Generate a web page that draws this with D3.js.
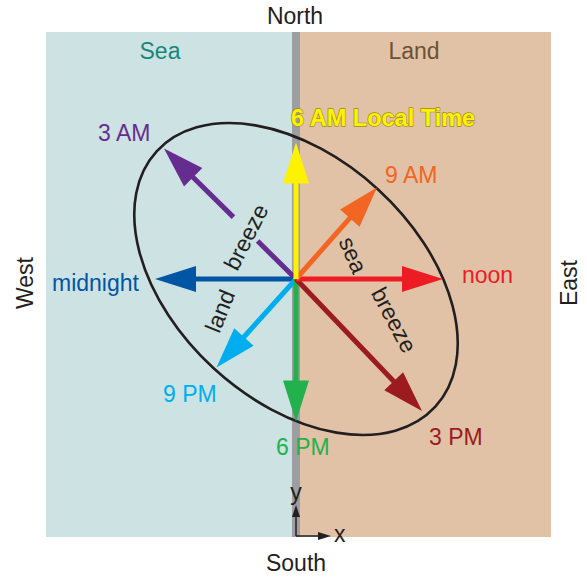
<!DOCTYPE html>
<html>
<head>
<meta charset="utf-8">
<script src="https://cdn.jsdelivr.net/npm/d3@7"></script>
<style>
  body { margin: 0; background: #fff; }
  text { font-family: "Liberation Sans", Arial, sans-serif; }
</style>
</head>
<body>
<svg id="chart" width="587" height="578"></svg>
<script>
// hourly wind vectors (u east, v north), arbitrary speed units
const times = ["midnight", "3 AM", "9 PM", "6 PM", "3 PM", "noon", "9 AM", "6 AM"];
const uWind = [-9.4, -8.8, -5.3, 0.0, 8.4, 9.8, 5.4, 0.0];
const vWind = [0.0, 8.7, -5.9, -9.5, -8.8, 0.0, 6.1, 9.1];
const labels = ["midnight", "3 AM", "9 PM", "6 PM", "3 PM", "noon", "9 AM", "6 AM Local Time"];
const colors = ["#0055a5", "#662d91", "#00aeef", "#23b14d", "#9b1b1f", "#ed1c24", "#f26522", "#fff200"];
// hodograph ellipse (same units)
const ellA = 12.6, ellB = 8.1, ellAngle = 42.5;

const svg = d3.select("#chart");
const panel = { x0: 46, x1: 551, y0: 32, y1: 537 };
const ox = 296, oy = 279;
const fs = 23;

const x = d3.scaleLinear().domain([-10, 10]).range([ox - 150, ox + 150]);
const y = d3.scaleLinear().domain([-10, 10]).range([oy + 150, oy - 150]);
const k = x(1) - x(0);

// background: sea / land / coastline
svg.append("rect").attr("x", panel.x0).attr("y", panel.y0)
  .attr("width", ox - panel.x0).attr("height", panel.y1 - panel.y0).attr("fill", "#cde2e2");
svg.append("rect").attr("x", ox).attr("y", panel.y0)
  .attr("width", panel.x1 - ox).attr("height", panel.y1 - panel.y0).attr("fill", "#e1c2a6");
svg.append("rect").attr("x", ox - 4).attr("y", panel.y0)
  .attr("width", 8).attr("height", panel.y1 - panel.y0).attr("fill", "#9c9ea1");

const dark = "#231f20";
function label(txt, tx, ty, rot, anchor, color) {
  return svg.append("text").attr("transform", `translate(${tx},${ty}) rotate(${rot})`)
    .attr("text-anchor", anchor).attr("dominant-baseline", "central")
    .attr("font-size", fs).attr("fill", color).text(txt);
}
label("Sea", 160, 51, 0, "middle", "#16877b");
label("Land", 414, 51, 0, "middle", "#6b5232");
label("North", 295, 16, 0, "middle", dark);
label("South", 296, 563, 0, "middle", dark);
label("West", 25, 283, -90, "middle", dark);
label("East", 569, 283, -90, "middle", dark);

// ellipse
svg.append("ellipse")
  .attr("transform", `translate(${x(0)},${y(0)}) rotate(${ellAngle})`)
  .attr("rx", ellA * k).attr("ry", ellB * k)
  .attr("fill", "none").attr("stroke", dark).attr("stroke-width", 2.6);

// arrows
const headLen = 41, headHalf = 13;
const gap = { "3 AM": [54, 88] };
const g = svg.append("g");
times.forEach((t, i) => {
  const tx = x(uWind[i]), ty = y(vWind[i]);
  const dx = tx - ox, dy = ty - oy, len = Math.hypot(dx, dy);
  const ux = dx / len, uy = dy / len;
  const bx = tx - ux * headLen, by = ty - uy * headLen;
  const segs = gap[t] ? [[0, gap[t][0]], [gap[t][1], len - headLen + 2]] : [[0, len - headLen + 2]];
  segs.forEach(s => {
    g.append("line")
      .attr("x1", ox + ux * s[0]).attr("y1", oy + uy * s[0])
      .attr("x2", ox + ux * s[1]).attr("y2", oy + uy * s[1])
      .attr("stroke", colors[i]).attr("stroke-width", 5);
  });
  const pts = [[tx, ty], [bx - uy * headHalf, by + ux * headHalf], [bx + uy * headHalf, by - ux * headHalf]];
  g.append("path").attr("d", d3.line()(pts) + "Z").attr("fill", colors[i]);
});

// time labels
const labelPos = {
  "midnight": [52, 283], "3 AM": [98, 133], "9 PM": [163, 394],
  "6 PM": [276, 447], "3 PM": [429, 437], "noon": [462, 275],
  "9 AM": [385, 175], "6 AM": [291, 118]
};
times.forEach((t, i) => {
  const p = labelPos[t];
  const txt = label(labels[i], p[0], p[1], 0, "start", colors[i]);
  if (t === "6 AM") {
    txt.attr("font-weight", "bold").attr("font-size", 23.5)
      .attr("stroke", "#a08e10").attr("stroke-width", 1.3).attr("paint-order", "stroke");
  }
});

// breeze annotations
[["sea", 353, 255, 66], ["breeze", 394, 320, 62],
 ["breeze", 246, 237, -63], ["land", 220, 311, -68]]
  .forEach(n => label(n[0], n[1], n[2], n[3], "middle", dark));

// x / y axis indicator
const ax = ox, ay = panel.y1 - 1;
svg.append("line").attr("x1", ax).attr("y1", ay).attr("x2", ax).attr("y2", ay - 22)
  .attr("stroke", dark).attr("stroke-width", 1.5);
svg.append("path").attr("d", d3.line()([[ax, ay - 31], [ax - 4, ay - 19], [ax + 4, ay - 19]]) + "Z").attr("fill", dark);
svg.append("line").attr("x1", ax).attr("y1", ay).attr("x2", ax + 24).attr("y2", ay)
  .attr("stroke", dark).attr("stroke-width", 1.5);
svg.append("path").attr("d", d3.line()([[ax + 35, ay], [ax + 22, ay - 4], [ax + 22, ay + 4]]) + "Z").attr("fill", dark);
label("y", ax, ay - 44, 0, "middle", dark);
label("x", ax + 38, ay - 2, 0, "start", dark);
</script>
</body>
</html>
